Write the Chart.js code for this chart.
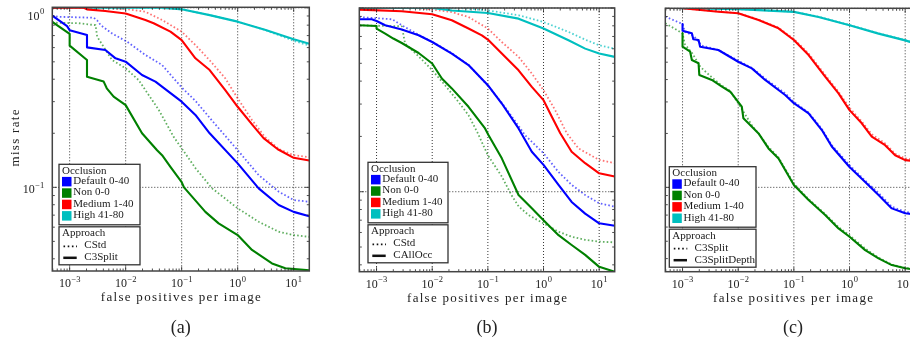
<!DOCTYPE html>
<html>
<head>
<meta charset="utf-8">
<script src="https://cdn.jsdelivr.net/npm/chart.js@4.4.1/dist/chart.umd.min.js"></script>
<style>
html, body { margin: 0; padding: 0; background: #fff; overflow: hidden; width: 910px; height: 345px; }
body { position: relative; }
canvas { position: absolute; top: 0; }
</style>
</head>
<body>
<canvas id="chartA" width="320" height="345" style="left:0px"></canvas>
<canvas id="chartB" width="310" height="345" style="left:320px"></canvas>
<canvas id="chartC" width="300" height="345" style="left:630px"></canvas>
<script>
// axis decades and legend text
var xDecades = [-3, -2, -1, 0, 1];
var yDecades = [-1, 0];
var occlusionLabels = ['Default 0-40', 'Non 0-0', 'Medium 1-40', 'High 41-80'];
var occlusionColors = ['#0000ff', '#008000', '#ff0000', '#00bfbf'];
var dottedColors = ['rgba(0,0,255,0.62)', 'rgba(0,128,0,0.62)', 'rgba(255,0,0,0.55)', 'rgba(0,191,191,0.7)'];

// [fppi, miss rate] pairs
// (a) dotted = CStd, solid = C3Split
var aStdDefault = [[4.9e-4,0.90],[6.5e-4,0.89],[2.7e-3,0.88],[3.1e-3,0.85],[3.6e-3,0.80],[5.7e-3,0.72],[0.0106,0.647],[0.0225,0.546],[0.0447,0.48],[0.1,0.36],[0.176,0.303],[0.35,0.235],[1,0.161],[2.37,0.117],[5.4,0.0946],[10,0.085],[19,0.083]];
var aStdNon = [[4.9e-4,0.826],[1.45e-3,0.82],[2.9e-3,0.80],[3.1e-3,0.69],[5.7e-3,0.512],[0.01,0.46],[0.017,0.396],[0.0225,0.348],[0.039,0.27],[0.072,0.191],[0.1,0.165],[0.176,0.128],[0.349,0.0987],[1,0.0764],[2.37,0.0643],[5.4,0.0566],[10,0.0542],[19,0.053]];
var aStdMedium = [[4.9e-4,1.0],[5e-3,1.0],[0.0113,0.98],[0.0225,0.95],[0.0447,0.855],[0.1,0.736],[0.176,0.62],[0.316,0.51],[0.6,0.405],[1,0.313],[1.8,0.237],[3.1,0.19],[5.5,0.163],[10,0.151],[19,0.147]];
var aStdHigh = [[4.9e-4,1.0],[0.03,1.0],[0.1,0.98],[0.316,0.91],[1,0.837],[3.16,0.75],[10,0.655],[19,0.615]];
var aSplitDefault = [[4.9e-4,0.904],[9e-4,0.79],[1e-3,0.75],[2.04e-3,0.705],[2.04e-3,0.602],[4.34e-3,0.582],[6.6e-3,0.523],[0.01,0.501],[0.0196,0.422],[0.034,0.388],[0.1,0.30],[0.176,0.253],[0.316,0.20],[1,0.136],[2.37,0.0987],[5.4,0.0797],[10,0.073],[19,0.069]];
var aSplitNon = [[4.9e-4,0.835],[1e-3,0.715],[1e-3,0.615],[2.04e-3,0.512],[2.04e-3,0.413],[4.05e-3,0.388],[4.6e-3,0.356],[6.1e-3,0.32],[0.01,0.287],[0.0196,0.20],[0.0364,0.161],[0.0447,0.151],[0.063,0.13],[0.1,0.107],[0.11,0.10],[0.265,0.073],[0.457,0.063],[1,0.0542],[1.8,0.0448],[4.1,0.0377],[7.1,0.0354],[19,0.0345]];
var aSplitMedium = [[4.9e-4,1.0],[1.8e-3,1.0],[2.04e-3,0.98],[4.3e-3,0.96],[0.01,0.93],[0.0225,0.855],[0.0316,0.82],[0.063,0.736],[0.1,0.66],[0.176,0.523],[0.316,0.45],[0.6,0.348],[1,0.281],[1.85,0.222],[2.9,0.188],[5.2,0.163],[10,0.146],[19,0.141]];
var aSplitHigh = [[4.9e-4,1.0],[0.05,1.0],[0.1,0.98],[0.316,0.91],[1,0.837],[3.16,0.752],[10,0.668],[19,0.63]];

// (b) dotted = CStd, solid = CAllOcc
var bStdDefault = [[4.9e-4,0.893],[1.9e-3,0.868],[2.84e-3,0.805],[5.7e-3,0.715],[0.01,0.655],[0.0225,0.568],[0.0449,0.49],[0.1,0.378],[0.178,0.305],[0.316,0.24],[0.467,0.203],[1,0.162],[1.86,0.128],[3.2,0.109],[5.6,0.096],[10,0.0865],[19,0.083]];
var bStdNon = [[4.9e-4,0.805],[2.84e-3,0.795],[3.26e-3,0.64],[5.7e-3,0.546],[0.01,0.459],[0.017,0.38],[0.0297,0.308],[0.0449,0.261],[0.065,0.21],[0.1,0.158],[0.178,0.121],[0.27,0.095],[0.36,0.083],[0.537,0.0747],[1,0.0673],[1.86,0.0606],[3.2,0.0569],[5.6,0.0547],[10,0.0535],[19,0.053]];
var bStdMedium = [[4.9e-4,1.0],[5e-3,1.0],[0.01,0.98],[0.0225,0.95],[0.0449,0.893],[0.1,0.773],[0.178,0.653],[0.356,0.542],[0.616,0.44],[1,0.357],[1.62,0.278],[2.62,0.208],[4.25,0.172],[10,0.149],[19,0.143]];
var bStdHigh = [[4.9e-4,1.0],[0.03,1.0],[0.1,0.97],[0.356,0.913],[1,0.839],[2.81,0.741],[5.6,0.673],[10,0.627],[19,0.60]];
var bAllDefault = [[4.9e-4,0.868],[8.2e-4,0.868],[1e-3,0.85],[1.43e-3,0.805],[2.84e-3,0.763],[5.7e-3,0.711],[0.01,0.653],[0.0225,0.565],[0.0449,0.489],[0.1,0.38],[0.178,0.302],[0.356,0.221],[0.616,0.165],[1,0.14],[1.86,0.109],[3.2,0.088],[5.6,0.076],[10,0.0673],[19,0.0653]];
var bAllNon = [[4.9e-4,0.805],[1e-3,0.798],[1e-3,0.773],[1.43e-3,0.726],[2.0e-3,0.682],[2.84e-3,0.645],[5.7e-3,0.569],[0.01,0.499],[0.0149,0.413],[0.0225,0.365],[0.0449,0.29],[0.089,0.221],[0.103,0.203],[0.178,0.152],[0.356,0.096],[0.616,0.0813],[1,0.070],[1.86,0.058],[3.2,0.0513],[5.6,0.0453],[10,0.039],[19,0.0367]];
var bAllMedium = [[4.9e-4,0.98],[2.84e-3,0.96],[0.01,0.924],[0.0225,0.857],[0.0449,0.773],[0.078,0.71],[0.1,0.673],[0.178,0.565],[0.356,0.458],[0.616,0.372],[1,0.315],[1.41,0.256],[2.0,0.208],[3.2,0.165],[5.6,0.143],[10,0.126],[19,0.121]];
var bAllHigh = [[4.9e-4,1.0],[0.01,1.0],[0.0225,0.97],[0.1,0.94],[0.356,0.875],[1,0.773],[2.81,0.667],[5.6,0.601],[10,0.565],[19,0.542]];

// (c) dotted = C3Split, solid = C3SplitDepth
var cSplitDefault = [[4.9e-4,0.898],[1e-3,0.817],[1.1e-3,0.74],[1.6e-3,0.70],[2.2e-3,0.62],[4.4e-3,0.585],[0.01,0.51],[0.0176,0.465],[0.0305,0.405],[0.07,0.335],[0.1,0.30],[0.184,0.262],[0.318,0.212],[0.48,0.172],[1,0.133],[1.91,0.109],[3.32,0.093],[5.75,0.078],[10,0.073],[19,0.071]];
var cSplitNon = [[4.9e-4,0.825],[1e-3,0.725],[1.1e-3,0.63],[1.5e-3,0.56],[2.1e-3,0.47],[3.4e-3,0.41],[5.1e-3,0.37],[7.2e-3,0.345],[0.0124,0.265],[0.0176,0.222],[0.0232,0.2],[0.035,0.168],[0.053,0.147],[0.1,0.105],[0.184,0.086],[0.365,0.071],[0.634,0.06],[1,0.054],[1.91,0.0455],[3.32,0.0405],[5.75,0.037],[10,0.0355],[19,0.0345]];
var cSplitMedium = [[4.9e-4,1.0],[1e-3,1.0],[4.4e-3,0.96],[0.01,0.94],[0.0232,0.865],[0.053,0.78],[0.1,0.675],[0.184,0.56],[0.365,0.425],[0.634,0.342],[1,0.278],[1.66,0.233],[2.51,0.198],[4.36,0.176],[6.6,0.154],[10,0.145],[19,0.142]];
var cSplitHigh = [[4.9e-4,1.0],[0.01,0.99],[0.1,0.957],[0.277,0.898],[1,0.807],[3.32,0.725],[10,0.665],[19,0.625]];
var cDepthDefault = [[1e-3,0.817],[1e-3,0.75],[1.47e-3,0.725],[1.56e-3,0.671],[1.94e-3,0.665],[2.07e-3,0.61],[4.4e-3,0.585],[0.01,0.503],[0.0176,0.462],[0.0305,0.398],[0.0697,0.328],[0.1,0.295],[0.184,0.259],[0.318,0.209],[0.48,0.169],[1,0.130],[1.91,0.107],[3.32,0.0906],[5.75,0.0763],[10,0.0716],[19,0.070]];
var cDepthNon = [[1e-3,0.725],[1e-3,0.61],[1.37e-3,0.572],[1.47e-3,0.514],[1.94e-3,0.493],[2.0e-3,0.424],[3.36e-3,0.398],[5.1e-3,0.365],[7.2e-3,0.342],[0.0116,0.282],[0.0124,0.243],[0.0176,0.218],[0.0232,0.2],[0.035,0.165],[0.053,0.145],[0.1,0.103],[0.184,0.085],[0.365,0.070],[0.634,0.059],[1,0.053],[1.91,0.0446],[3.32,0.0401],[5.75,0.0368],[10,0.0353],[19,0.0343]];
var cDepthMedium = [[1e-3,1.0],[4.4e-3,0.957],[0.01,0.938],[0.0232,0.86],[0.053,0.773],[0.1,0.665],[0.184,0.548],[0.365,0.415],[0.634,0.335],[1,0.27],[1.66,0.228],[2.51,0.192],[4.36,0.172],[6.6,0.151],[10,0.142],[19,0.139]];
var cDepthHigh = [[1e-3,1.0],[0.01,0.99],[0.1,0.955],[0.277,0.895],[1,0.805],[3.32,0.722],[10,0.662],[19,0.622]];

var FONT = '"Liberation Serif", "DejaVu Serif", serif';
var xMin = 4.9e-4, xMax = 19;

function pts(arr) {
  return arr.map(function (p) { return { x: p[0], y: p[1] }; });
}

function spacedText(ctx, text, left, y, width) {
  ctx.letterSpacing = '0px';
  var w = ctx.measureText(text).width;
  var sp = (width - w) / (text.length - 1);
  ctx.letterSpacing = sp + 'px';
  ctx.textAlign = 'left';
  ctx.fillText(text, left, y);
  ctx.letterSpacing = '0px';
}

function powLabel(ctx, exp, x, y, align) {
  var sup = exp < 0 ? '\u2212' + (-exp) : String(exp);
  ctx.font = '12px ' + FONT;
  var bw = ctx.measureText('10').width;
  ctx.font = '8.5px ' + FONT;
  var sw = ctx.measureText(sup).width;
  var total = bw + sw + 0.5;
  var left = align === 'right' ? x - total : x - total / 2;
  ctx.textAlign = 'left';
  ctx.textBaseline = 'alphabetic';
  ctx.font = '12px ' + FONT;
  ctx.fillText('10', left, y);
  ctx.font = '8.5px ' + FONT;
  ctx.fillText(sup, left + bw + 0.5, y - 5.5);
}

function makeDecor(cfg) {
  return {
    id: 'decor',
    beforeDatasetsDraw: function (chart) {
      var ctx = chart.ctx, a = chart.chartArea, xs = chart.scales.x, ys = chart.scales.y;
      ctx.save();
      ctx.strokeStyle = '#000';
      ctx.lineWidth = 0.8;
      ctx.setLineDash([1, 2]);
      xDecades.forEach(function (e) {
        var px = xs.getPixelForValue(Math.pow(10, e));
        ctx.beginPath(); ctx.moveTo(px, a.top); ctx.lineTo(px, a.bottom); ctx.stroke();
      });
      yDecades.forEach(function (e) {
        var py = ys.getPixelForValue(Math.pow(10, e));
        ctx.beginPath(); ctx.moveTo(a.left, py); ctx.lineTo(a.right, py); ctx.stroke();
      });
      ctx.restore();
    },
    afterDraw: function (chart) {
      var ctx = chart.ctx, a = chart.chartArea, xs = chart.scales.x, ys = chart.scales.y;
      ctx.save();
      ctx.setLineDash([]);
      // ticks
      ctx.strokeStyle = '#222';
      ctx.lineWidth = 0.8;
      for (var e = -4; e <= 1; e++) {
        for (var k = 1; k <= 9; k++) {
          var v = k * Math.pow(10, e);
          if (v < xs.min || v > xs.max) continue;
          var len = k === 1 ? 4.5 : 2.5;
          var px = xs.getPixelForValue(v);
          ctx.beginPath();
          ctx.moveTo(px, a.bottom); ctx.lineTo(px, a.bottom - len);
          ctx.moveTo(px, a.top); ctx.lineTo(px, a.top + len);
          ctx.stroke();
        }
      }
      for (var e2 = -2; e2 <= 0; e2++) {
        for (var k2 = 1; k2 <= 9; k2++) {
          var v2 = k2 * Math.pow(10, e2);
          if (v2 < ys.min || v2 > ys.max) continue;
          var len2 = k2 === 1 ? 4.5 : 2.5;
          var py = ys.getPixelForValue(v2);
          ctx.beginPath();
          ctx.moveTo(a.left, py); ctx.lineTo(a.left + len2, py);
          ctx.moveTo(a.right, py); ctx.lineTo(a.right - len2, py);
          ctx.stroke();
        }
      }
      // frame
      ctx.strokeStyle = '#444';
      ctx.lineWidth = 1.5;
      ctx.strokeRect(a.left, a.top, a.right - a.left, a.bottom - a.top);

      // tick labels
      ctx.fillStyle = '#222';
      xDecades.forEach(function (d) {
        powLabel(ctx, d, xs.getPixelForValue(Math.pow(10, d)), a.bottom + 16, 'center');
      });
      if (cfg.yLabels) {
        yDecades.forEach(function (d) {
          var py = ys.getPixelForValue(Math.pow(10, d));
          powLabel(ctx, d, a.left - 8, Math.max(py + 6, a.top + 12.5), 'right');
        });
        ctx.save();
        ctx.translate(16, 138);
        ctx.rotate(-Math.PI / 2);
        ctx.font = '13px ' + FONT;
        ctx.textBaseline = 'middle';
        spacedText(ctx, 'miss rate', -28.5, 0, 57);
        ctx.restore();
      }
      var cx = (a.left + a.right) / 2;
      ctx.font = '13px ' + FONT;
      ctx.textBaseline = 'middle';
      spacedText(ctx, 'false positives per image', cx - 80, a.bottom + 27, 160);
      ctx.font = '18px ' + FONT;
      ctx.textAlign = 'center';
      ctx.fillText(cfg.caption, cx, 328);

      // legend boxes
      var L = a.left + cfg.legendDx, T = cfg.legendTop, W = cfg.legendWidth;
      ctx.fillStyle = '#fff';
      ctx.strokeStyle = '#333';
      ctx.lineWidth = 1.3;
      ctx.fillRect(L, T, W, 60.5);
      ctx.strokeRect(L, T, W, 60.5);
      var T2 = T + 62.5;
      ctx.fillRect(L, T2, W, 38);
      ctx.strokeRect(L, T2, W, 38);
      ctx.font = '11px ' + FONT;
      ctx.textAlign = 'left';
      ctx.textBaseline = 'middle';
      ctx.fillStyle = '#1a1a1a';
      ctx.fillText('Occlusion', L + 3, T + 6.7);
      for (var i = 0; i < 4; i++) {
        var ty = T + 16.9 + 11.4 * i;
        ctx.fillStyle = occlusionColors[i];
        ctx.fillRect(L + 3, ty - 4.3, 9.5, 9.5);
        ctx.fillStyle = '#1a1a1a';
        ctx.fillText(occlusionLabels[i], L + 14.3, ty);
      }
      ctx.fillText('Approach', L + 3, T2 + 6.7);
      ctx.fillText(cfg.approach[0], L + 25.3, T2 + 18.8);
      ctx.fillText(cfg.approach[1], L + 25.3, T2 + 30.5);
      ctx.strokeStyle = '#111';
      ctx.lineWidth = 1.7;
      ctx.setLineDash([1.6, 2.6]);
      ctx.beginPath(); ctx.moveTo(L + 4.5, T2 + 19.5); ctx.lineTo(L + 18, T2 + 19.5); ctx.stroke();
      ctx.setLineDash([]);
      ctx.lineWidth = 2.5;
      ctx.beginPath(); ctx.moveTo(L + 4.3, T2 + 31); ctx.lineTo(L + 17.7, T2 + 31); ctx.stroke();
      ctx.restore();
    }
  };
}

function makePanel(id, solid, dotted, cfg) {
  var ds = [];
  for (var i = 0; i < 4; i++) {
    ds.push({ data: pts(solid[i]), borderColor: occlusionColors[i], borderWidth: 2.1, order: 0 });
    ds.push({ data: pts(dotted[i]), borderColor: dottedColors[i], borderWidth: 1.8, borderDash: [1.6, 2.2], order: 1 });
  }
  return new Chart(document.getElementById(id).getContext('2d'), {
    type: 'line',
    data: { datasets: ds },
    options: {
      responsive: false,
      animation: false,
      devicePixelRatio: 1,
      layout: { padding: cfg.padding },
      elements: {
        point: { radius: 0 },
        line: { tension: 0, borderJoinStyle: 'round' }
      },
      plugins: { legend: { display: false }, tooltip: { enabled: false } },
      scales: {
        x: { type: 'logarithmic', display: false, min: xMin, max: xMax },
        y: { type: 'logarithmic', display: false, min: cfg.yMin, max: cfg.yMax }
      }
    },
    plugins: [makeDecor(cfg)]
  });
}

var chartA = makePanel('chartA',
  [aSplitDefault, aSplitNon, aSplitMedium, aSplitHigh],
  [aStdDefault, aStdNon, aStdMedium, aStdHigh],
  { padding: { left: 52.3, top: 7.3, right: 10.7, bottom: 74 }, yMin: 0.0342, yMax: 1.006,
    yLabels: true, caption: '(a)', legendDx: 6.7, legendTop: 164.3, legendWidth: 81,
    approach: ['CStd', 'C3Split'] });

var chartB = makePanel('chartB',
  [bAllDefault, bAllNon, bAllMedium, bAllHigh],
  [bStdDefault, bStdNon, bStdMedium, bStdHigh],
  { padding: { left: 39.3, top: 8, right: 15.3, bottom: 73.3 }, yMin: 0.0367, yMax: 1.0,
    yLabels: false, caption: '(b)', legendDx: 8.7, legendTop: 162.3, legendWidth: 80,
    approach: ['CStd', 'CAllOcc'] });

var chartC = makePanel('chartC',
  [cDepthDefault, cDepthNon, cDepthMedium, cDepthHigh],
  [cSplitDefault, cSplitNon, cSplitMedium, cSplitHigh],
  { padding: { left: 35.3, top: 8.3, right: 9.3, bottom: 73.3 }, yMin: 0.0338, yMax: 1.0,
    yLabels: false, caption: '(c)', legendDx: 4, legendTop: 166.7, legendWidth: 86.7,
    approach: ['C3Split', 'C3SplitDepth'] });
</script>
</body>
</html>
